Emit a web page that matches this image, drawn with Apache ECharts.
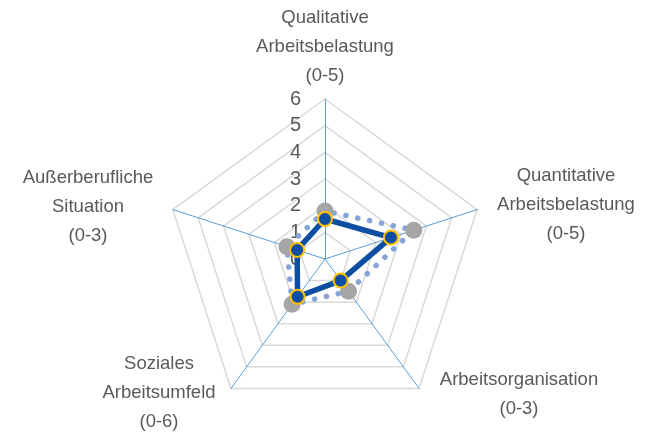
<!DOCTYPE html>
<html>
<head>
<meta charset="utf-8">
<script src="https://cdn.jsdelivr.net/npm/echarts@6/dist/echarts.min.js"></script>
<style>
  html, body { margin: 0; padding: 0; background: #fff; }
  #chart { width: 652px; height: 435px; }
</style>
</head>
<body>
<div id="chart"></div>
<script>
// clockwise from the top, as in the picture
const categories = [
  'Qualitative\nArbeitsbelastung\n(0-5)',
  'Quantitative\nArbeitsbelastung\n(0-5)',
  'Arbeitsorganisation\n(0-3)',
  'Soziales\nArbeitsumfeld\n(0-6)',
  'Außerberufliche\nSituation\n(0-3)'
];
const ist = [1.5, 2.6, 1.0, 1.75, 1.1];
const referenz = [1.8, 3.5, 1.5, 2.1, 1.5];
const axisMax = 6;
const tickStep = 1;

// echarts lays indicators out counter-clockwise, so flip the order after the first
const order = [0, 4, 3, 2, 1];
const pick = arr => order.map(i => arr[i]);

// label anchors (layout only)
const namePos = [
  { x: 325, y: 47 },
  { x: 566, y: 205 },
  { x: 519, y: 394 },
  { x: 159, y: 393 },
  { x: 88, y: 207 }
];

const font = 'Liberation Sans';
const txt = '#595959';

let chart = echarts.init(document.getElementById('chart'));
chart.setOption({
  animation: false,
  radar: {
    center: [325, 259],
    radius: 160,
    startAngle: 90,
    splitNumber: axisMax / tickStep,
    shape: 'polygon',
    indicator: pick(categories).map((c, i) => ({
      name: c,
      min: 0,
      max: axisMax,
      axisLabel: i === 0 ? { show: true } : undefined
    })),
    axisName: { show: false },
    axisLabel: {
      show: false,
      color: txt,
      fontSize: 20,
      fontFamily: font,
      margin: 24
    },
    axisLine: { lineStyle: { color: '#5B9BD5', width: 1 } },
    splitLine: { lineStyle: { color: '#D9D9D9', width: 1.5 } },
    splitArea: { show: false }
  },
  graphic: categories.map((c, i) => ({
    type: 'text',
    x: namePos[i].x,
    y: namePos[i].y,
    style: {
      text: c,
      fill: txt,
      font: '18.5px "' + font + '"',
      lineHeight: 29,
      align: 'center',
      verticalAlign: 'middle'
    }
  })),
  series: [{
    type: 'radar',
    z: 2,
    symbol: 'circle',
    symbolSize: 17,
    data: [
      {
        name: 'Referenz',
        value: pick(referenz),
        itemStyle: { color: '#A5A5A5' },
        lineStyle: { color: '#86A4D6', width: 5.5, type: [0.1, 12], cap: 'round' }
      },
      {
        name: 'Ist',
        value: pick(ist),
        itemStyle: { color: '#0B4EA2', borderColor: '#FFC000', borderWidth: 2 },
        symbolSize: 14,
        lineStyle: { color: '#0B4EA2', width: 5.5 }
      }
    ]
  }]
});
</script>
</body>
</html>
